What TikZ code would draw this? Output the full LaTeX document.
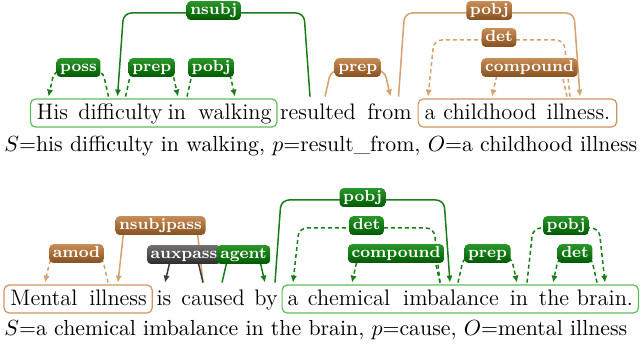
\documentclass[tikz,border=0pt]{standalone}
\usetikzlibrary{arrows.meta,calc,fit}
\definecolor{gline}{HTML}{187C18}
\definecolor{gtop}{HTML}{2A962A}
\definecolor{gbot}{HTML}{005A00}
\definecolor{bline}{HTML}{D4A26E}
\definecolor{btop}{HTML}{C98D55}
\definecolor{bbot}{HTML}{85501F}
\definecolor{kline}{HTML}{3A3A3A}
\definecolor{ktop}{HTML}{727272}
\definecolor{kbot}{HTML}{2C2C2C}
\definecolor{gboxc}{HTML}{5ABD5A}
\definecolor{bboxc}{HTML}{CD955E}
\newcounter{depc}
\newcommand\dep[8]{%
  \stepcounter{depc}%
  \draw[#1] let \p1=([xshift=#3*0.5pt]#2.north), \p2=([xshift=#5*0.5pt]#4.north),
     \n1={ifthenelse(\x1<\x2,1,-1)*3pt}, \n2={(357-#6)*0.5pt} in
     (\p1) -- (\x1+\n1,\n2) -- node[lbl,#7](lab\arabic{depc}){#8} (\x2-\n1,\n2) -- (\p2);}
\tikzset{
  w/.style={anchor=base, inner sep=0pt, text height=11.5pt, text depth=0pt, font=\fontsize{11.2}{13}\selectfont},
  captxt/.style={anchor=base west, inner sep=0pt, font=\fontsize{10.9}{13}\selectfont},
  lbl/.style={rounded corners=2pt, inner xsep=1.8pt, inner ysep=1.1pt, text height=5.6pt, text depth=1.6pt,
    font=\fontsize{8}{9}\selectfont\bfseries, text=white, yshift=1.2pt, solid},
  glbl/.style={top color=gtop, bottom color=gbot},
  blbl/.style={top color=btop, bottom color=bbot},
  klbl/.style={top color=ktop, bottom color=kbot},
  arr/.style={-{Latex[length=3.5pt,width=3.2pt]}},
  ge/.style={draw=gline, line width=0.75pt, rounded corners=4pt, arr},
  gd/.style={ge, dash pattern=on 2pt off 1.5pt},
  be/.style={draw=bline, line width=0.75pt, rounded corners=4pt, arr},
  bd/.style={be, dash pattern=on 2pt off 1.5pt},
  ke/.style={draw=kline, line width=0.75pt, rounded corners=4pt, arr},
  gbox/.style={draw=gboxc, line width=0.6pt, rounded corners=2.5pt, inner sep=0pt},
  bbox/.style={draw=bboxc, line width=0.6pt, rounded corners=2.5pt, inner sep=0pt},
}
\begin{document}
\begin{tikzpicture}[x=0.5pt,y=0.5pt]
\useasboundingbox (0,0) rectangle (642,357);
% top sentence
\node[w] (his) at (52.5,237) {His};
\node[w] (difficulty) at (120.5,237) {difficulty};
\node[w] (in1) at (177,237) {in};
\node[w] (walking) at (235,237) {walking};
\node[w] (resulted) at (318,237) {resulted};
\node[w] (from) at (389.5,237) {from};
\node[w] (a1) at (430,237) {a};
\node[w] (childhood) at (490,237) {childhood};
\node[w] (illness1) at (578.5,237) {illness.};
\node[gbox, fit={([xshift=-3pt,yshift=-3.5pt]his.base west) ([xshift=2.5pt,yshift=10.5pt]walking.base east)}] (box1) {};
\node[bbox, fit={([xshift=-3pt,yshift=-3.5pt]a1.base west) ([xshift=3pt,yshift=10.5pt]illness1.base east)}] (box2) {};
\dep{ge}{resulted}{-8}{difficulty}{-3}{13}{glbl}{nsubj}
\dep{gd}{difficulty}{-12}{his}{-4}{70}{glbl}{poss}
\dep{gd}{difficulty}{5}{in1}{1}{70}{glbl}{prep}
\dep{gd}{in1}{10}{walking}{0}{70}{glbl}{pobj}
\dep{be}{resulted}{7}{from}{1}{70}{blbl}{prep}
\dep{be}{from}{9}{illness1}{1.5}{13}{blbl}{pobj}
\dep{bd}{illness1}{-8.5}{a1}{-2}{40}{blbl}{det}
\dep{bd}{illness1}{-11.5}{childhood}{2}{70}{blbl}{compound}
\node[captxt] (cap1) at (4,205) {$S$=his difficulty in walking, $p$=result\_from, $O$=a childhood illness};
% bottom sentence
\node[w] (mental) at (44,51) {Mental};
\node[w] (illness2) at (118,51) {illness};
\node[w] (is) at (164,51) {is};
\node[w] (caused) at (213,51) {caused};
\node[w] (by) at (266,51) {by};
\node[w] (a2) at (293,51) {a};
\node[w] (chemical) at (349,51) {chemical};
\node[w] (imbalance) at (451,51) {imbalance};
\node[w] (in2) at (519,51) {in};
\node[w] (the) at (554,51) {the};
\node[w] (brain) at (605,51) {brain.};
\node[bbox, fit={([xshift=-3pt,yshift=-3.5pt]mental.base west) ([xshift=2.5pt,yshift=10.5pt]illness2.base east)}] (box3) {};
\node[gbox, fit={([xshift=-2.5pt,yshift=-3.5pt]a2.base west) ([xshift=2.5pt,yshift=10.5pt]brain.base east)}] (box4) {};
\dep{bd}{illness2}{-10}{mental}{1}{256}{blbl}{amod}
\dep{be}{caused}{-10}{illness2}{0}{228}{blbl}{nsubjpass}
\dep{ke}{caused}{-10}{is}{1}{257}{klbl}{auxpass}
\dep{ge}{caused}{9}{by}{-1}{257}{glbl}{agent}
\dep{ge}{by}{9}{imbalance}{-1}{200}{glbl}{pobj}
\dep{gd}{imbalance}{-11}{a2}{0}{228}{glbl}{det}
\dep{gd}{imbalance}{-11}{chemical}{3}{256}{glbl}{compound}
\dep{gd}{imbalance}{7}{in2}{-2}{256}{glbl}{prep}
\dep{gd}{in2}{8}{brain}{0}{228}{glbl}{pobj}
\dep{gd}{brain}{-8}{the}{-1}{256}{glbl}{det}
\node[captxt] (cap2) at (4,21) {$S$=a chemical imbalance in the brain, $p$=cause, $O$=mental illness};
\end{tikzpicture}
\end{document}
